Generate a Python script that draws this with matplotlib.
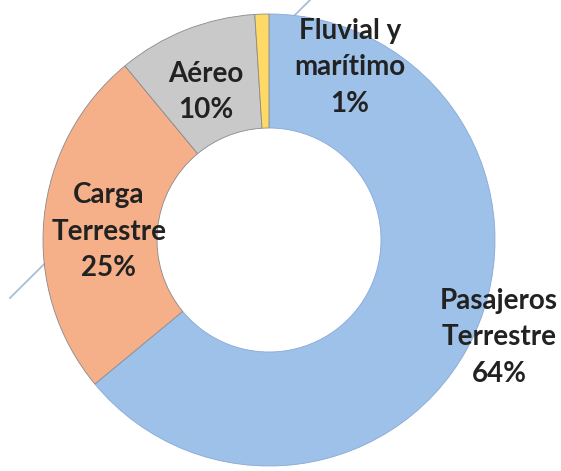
import matplotlib
matplotlib.use("Agg")
import matplotlib.pyplot as plt

categories = ["Pasajeros\nTerrestre", "Carga\nTerrestre", "Aéreo", "Fluvial y\nmarítimo"]
shares = [64, 25, 10, 1]
colors = ["#9dc1e8", "#f5b08a", "#c9c9c9", "#ffd966"]

# label centres in pixel coords (x from left, y from top)
label_pos = [(499, 337), (109, 232), (206, 92), (350, 67)]

W, H = 561, 471
fig = plt.figure(figsize=(W / 100, H / 100), dpi=100)
ax = fig.add_axes([0, 0, 1, 1])

# faint stray line behind the chart
ax.plot([10, 310], [H - 298, H - 0], color="#a9bdd8", lw=1.3, zorder=0)

cx, cy, r = 269, H - 240, 226
wedges, _ = ax.pie(shares, colors=colors, startangle=90, counterclock=False,
                   center=(cx, cy), radius=r, frame=True,
                   wedgeprops=dict(width=114, edgecolor="#8a8a8a", linewidth=0.6))
wedges[0].set_edgecolor("#8aa8d6")
ax.set_xlim(0, W)
ax.set_ylim(0, H)
ax.set_aspect("equal")
ax.axis("off")

for name, val, (x, y) in zip(categories, shares, label_pos):
    ax.text(x, H - y, f"{name}\n{val}%", ha="center", va="center",
            fontsize=20, fontweight="bold", family="Lato", color="#222222",
            linespacing=1.5, zorder=5)

fig.savefig("out.png", dpi=100)
